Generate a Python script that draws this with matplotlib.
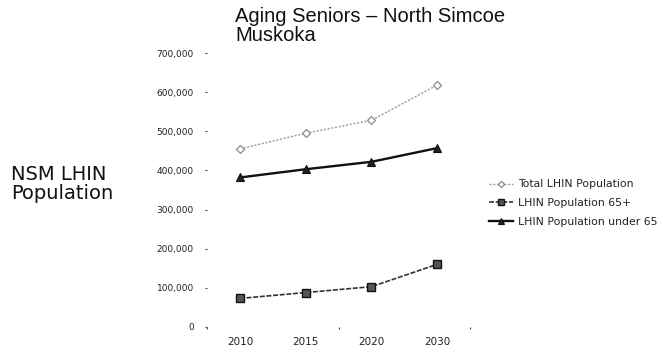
import matplotlib
matplotlib.use("Agg")
import matplotlib.pyplot as plt
from matplotlib.ticker import FuncFormatter, FixedLocator

# Population projections, North Simcoe Muskoka LHIN
years = ["2010", "2015", "2020", "2030"]
total_pop = [455000, 495000, 528000, 618000]
pop_65_plus = [73000, 88000, 103000, 160000]
pop_under_65 = [382000, 403000, 422000, 457000]

series_labels = ["Total LHIN Population", "LHIN Population 65+", "LHIN Population under 65"]
y_ticks = [0, 100000, 200000, 300000, 400000, 500000, 600000, 700000]

W, H, DPI = 663, 356, 100
fig = plt.figure(figsize=(W / DPI, H / DPI), dpi=DPI)
fig.patch.set_facecolor("white")

ax = fig.add_axes([207 / W, 1 - 327 / H, (470 - 207) / W, (327 - 53) / H])
x = list(range(len(years)))

l_total, = ax.plot(x, total_pop, color="#9a9a9a", lw=1.0, ls=(0, (1.5, 1.2)),
                   marker="D", ms=4, mfc="white", mec="#8a8a8a", mew=0.9)
l_65, = ax.plot(x, pop_65_plus, color="#333333", lw=1.2, ls=(0, (3, 1)),
                marker="s", ms=5.5, mfc="#555555", mec="#111111", mew=1.0)
l_u65, = ax.plot(x, pop_under_65, color="#111111", lw=1.7, ls="-",
                 marker="^", ms=5.5, mfc="#222222", mec="#111111", mew=0.8)

ax.set_xlim(-0.5, len(years) - 0.5)
ax.set_ylim(0, 700000)
for s in ax.spines.values():
    s.set_visible(False)

ax.yaxis.set_major_locator(FixedLocator(y_ticks))
ax.yaxis.set_major_formatter(FuncFormatter(lambda v, p: f"{int(v):,}"))
ax.tick_params(axis="y", length=1.5, width=0.8, color="#444444", pad=8,
               labelsize=6.5, labelcolor="#222222")

ax.set_xticks(x)
ax.set_xticklabels(years)
ax.tick_params(axis="x", length=0, pad=7, labelsize=7.5, labelcolor="#222222")
ax.set_xticks([-0.5, 1.5, 3.5], minor=True)
ax.tick_params(axis="x", which="minor", length=1.5, width=0.8, color="#444444")

fig.text(235 / W, 1 - 7 / H, "Aging Seniors \u2013 North Simcoe\nMuskoka",
         ha="left", va="top", fontsize=14.5, family="Liberation Sans",
         color="#111111", linespacing=1.0)
fig.text(11 / W, 1 - 184 / H, "NSM LHIN\nPopulation", ha="left", va="center",
         fontsize=14, family="DejaVu Sans", color="#111111", linespacing=1.05)

leg = fig.legend([l_total, l_65, l_u65], series_labels,
                 loc="center left", bbox_to_anchor=(489 / W, 1 - 203 / H),
                 frameon=False, fontsize=7.8, handlelength=2.2,
                 handletextpad=0.45, labelspacing=0.8, markerscale=0.8,
                 borderaxespad=0, borderpad=0)
for t in leg.get_texts():
    t.set_color("#222222")

fig.savefig("out.png", dpi=DPI, facecolor="white")
